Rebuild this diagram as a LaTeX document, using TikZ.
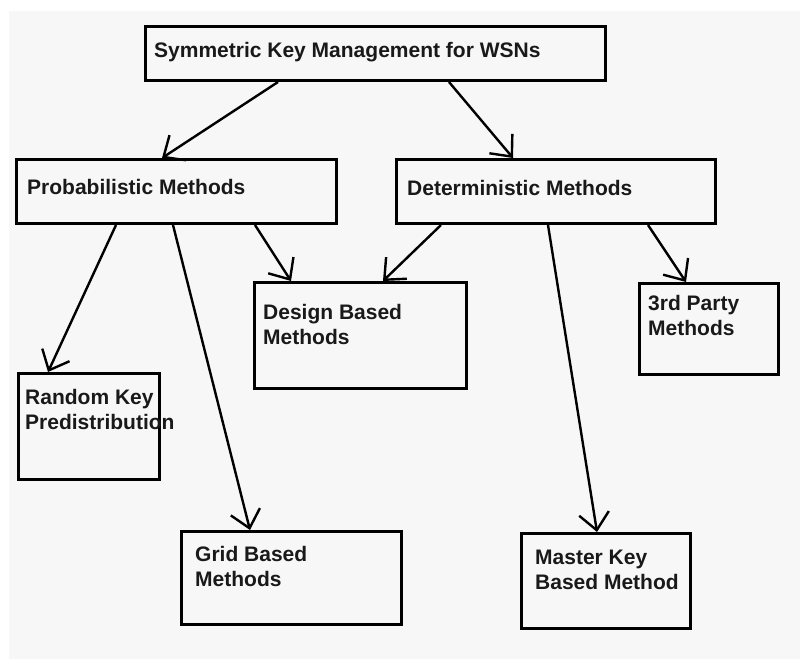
\documentclass[tikz,border=0pt]{standalone}
\usepackage{fontspec}
\setmainfont{Liberation Sans}
\usetikzlibrary{arrows.meta}
\definecolor{bggray}{HTML}{F7F7F7}
\tikzset{
  boxnode/.style={draw=black, line width=3pt, fill=bggray, inner sep=0pt, anchor=north west},
  txtnode/.style={anchor=base west, inner sep=0pt, font=\fontsize{21}{25.5}\selectfont\bfseries, text=black!90},
  conn/.style={line width=2.4pt, -{Straight Barb[length=17pt,width=30pt,line width=2.4pt]}}
}
\begin{document}
\begin{tikzpicture}[x=1pt,y=-1pt]
\useasboundingbox (0,0) rectangle (800,659);
\fill[white] (0,0) rectangle (800,659);
\fill[bggray] (9,11) rectangle (800,659);

\node[boxnode, minimum width=460pt, minimum height=54pt] (top) at (144,25) {};
\node[boxnode, minimum width=320pt, minimum height=64pt] (prob) at (15,158) {};
\node[boxnode, minimum width=319pt, minimum height=64pt] (det) at (395,158) {};
\node[boxnode, minimum width=212pt, minimum height=106pt] (design) at (253,281) {};
\node[boxnode, minimum width=139pt, minimum height=91pt] (third) at (638,282) {};
\node[boxnode, minimum width=141pt, minimum height=106pt] (random) at (17,372) {};
\node[boxnode, minimum width=220pt, minimum height=93pt] (grid) at (180,530) {};
\node[boxnode, minimum width=169pt, minimum height=95pt] (master) at (520,532) {};

\node[txtnode] (topt) at (154,57) {Symmetric Key Management for WSNs};
\node[txtnode] (probt) at (27,194) {Probabilistic Methods};
\node[txtnode] (dett) at (407,195) {Deterministic Methods};
\node[txtnode] (designt) at (263,319) {\parbox[t]{200pt}{Design Based\\Methods}};
\node[txtnode] (thirdt) at (648,310) {\parbox[t]{130pt}{3rd Party\\Methods}};
\node[txtnode] (randomt) at (25,404) {\parbox[t]{200pt}{Random Key\\Predistribution}};
\node[txtnode] (gridt) at (195,561) {\parbox[t]{200pt}{Grid Based\\Methods}};
\node[txtnode] (mastert) at (535,564) {\parbox[t]{200pt}{Master Key\\Based Method}};

\draw[conn] ([xshift=134pt]top.south west) -- ([xshift=147pt]prob.north west);
\draw[conn] ([xshift=305pt]top.south west) -- ([xshift=118pt]det.north west);
\draw[conn] ([xshift=101pt]prob.south west) -- ([xshift=31pt]random.north west);
\draw[conn] ([xshift=158pt]prob.south west) -- ([xshift=70pt]grid.north west);
\draw[conn] ([xshift=240pt]prob.south west) -- ([xshift=38pt]design.north west);
\draw[conn] ([xshift=46pt]det.south west) -- ([xshift=130pt]design.north west);
\draw[conn] ([xshift=153pt]det.south west) -- ([xshift=77pt]master.north west);
\draw[conn] ([xshift=253pt]det.south west) -- ([xshift=48pt]third.north west);
\end{tikzpicture}
\end{document}
